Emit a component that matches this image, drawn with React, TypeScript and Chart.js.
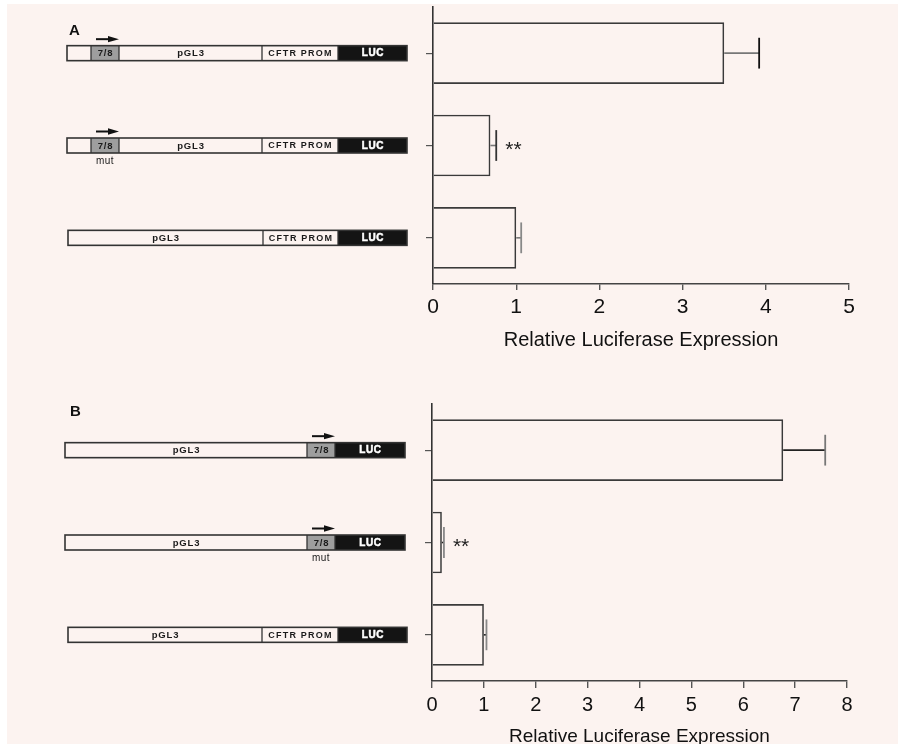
import React, { useEffect, useRef } from 'react';
import { Chart, registerables } from 'chart.js';

Chart.register(...registerables);

// ---------- data ----------
const categoriesA = ['7/8 + pGL3 + CFTR PROM', '7/8 mut + pGL3 + CFTR PROM', 'pGL3 + CFTR PROM'];
const valuesA = [3.5, 0.69, 1.0];
const errorsA = [0.42, 0.07, 0.06];
const significanceA = ['', '**', ''];
const xTicksA = [0, 1, 2, 3, 4, 5];

const categoriesB = ['pGL3 + 7/8', 'pGL3 + 7/8 mut', 'pGL3 + CFTR PROM'];
const valuesB = [6.77, 0.19, 1.0];
const errorsB = [0.81, 0.04, 0.05];
const significanceB = ['', '**', ''];
const xTicksB = [0, 1, 2, 3, 4, 5, 6, 7, 8];

const axisTitle = 'Relative Luciferase Expression';
const panelLetters = ['A', 'B'];
const partText: Record<string, string> = { blank: '', site: '7/8', pgl3: 'pGL3', prom: 'CFTR PROM', luc: 'LUC' };
const mutText = 'mut';

// ---------- diagram geometry (illustration of the constructs) ----------
type Construct = { edges: number[]; parts: string[]; arrow?: boolean; mut?: boolean };
const constructsA: Construct[] = [
  { edges: [67, 91, 119, 262, 338, 407], parts: ['blank', 'site', 'pgl3', 'prom', 'luc'], arrow: true },
  { edges: [67, 91, 119, 262, 338, 407], parts: ['blank', 'site', 'pgl3', 'prom', 'luc'], arrow: true, mut: true },
  { edges: [68, 263, 338, 407], parts: ['pgl3', 'prom', 'luc'] },
];
const constructsB: Construct[] = [
  { edges: [65, 307, 335, 405], parts: ['pgl3', 'site', 'luc'], arrow: true },
  { edges: [65, 307, 335, 405], parts: ['pgl3', 'site', 'luc'], arrow: true, mut: true },
  { edges: [68, 262, 338, 407], parts: ['pgl3', 'prom', 'luc'] },
];

const BG = '#fcf3f0';
const FONT = '"Liberation Sans", Arial, sans-serif';

function drawConstruct(ctx: CanvasRenderingContext2D, c: Construct, cy: number) {
  const h = 15;
  const top = cy - h / 2;
  ctx.save();
  c.parts.forEach((p, i) => {
    const x0 = c.edges[i];
    const x1 = c.edges[i + 1];
    ctx.fillStyle = p === 'site' ? '#9e9e9e' : p === 'luc' ? '#141414' : BG;
    ctx.fillRect(x0, top, x1 - x0, h);
  });
  ctx.strokeStyle = '#333';
  ctx.lineWidth = 1.6;
  const first = c.edges[0];
  const last = c.edges[c.edges.length - 1];
  ctx.strokeRect(first, top, last - first, h);
  ctx.lineWidth = 1.3;
  for (let i = 1; i < c.edges.length - 1; i++) {
    ctx.beginPath();
    ctx.moveTo(c.edges[i], top);
    ctx.lineTo(c.edges[i], top + h);
    ctx.stroke();
  }
  ctx.textAlign = 'center';
  ctx.textBaseline = 'middle';
  c.parts.forEach((p, i) => {
    const t = partText[p];
    if (!t) return;
    const cx = (c.edges[i] + c.edges[i + 1]) / 2;
    if (p === 'luc') {
      ctx.fillStyle = '#ffffff';
      ctx.strokeStyle = '#ffffff';
      ctx.lineWidth = 0.5;
      ctx.font = `bold 10px ${FONT}`;
      (ctx as any).letterSpacing = '0.6px';
      ctx.strokeText(t, cx + 0.5, cy + 0.5);
    } else if (p === 'prom') {
      ctx.fillStyle = '#1a1a1a';
      ctx.font = `bold 9px ${FONT}`;
      (ctx as any).letterSpacing = '1.2px';
    } else {
      ctx.fillStyle = '#1a1a1a';
      ctx.font = `bold 9.5px ${FONT}`;
      (ctx as any).letterSpacing = '0.8px';
    }
    ctx.fillText(t, cx + 0.5, cy + 0.5);
  });
  (ctx as any).letterSpacing = '0px';
  const si = c.parts.indexOf('site');
  if (si >= 0) {
    const sx0 = c.edges[si];
    const sx1 = c.edges[si + 1];
    if (c.arrow) {
      const ay = cy - 14;
      ctx.strokeStyle = '#111';
      ctx.lineWidth = 2;
      ctx.beginPath();
      ctx.moveTo(sx0 + 5, ay);
      ctx.lineTo(sx1 - 8, ay);
      ctx.stroke();
      ctx.fillStyle = '#111';
      ctx.beginPath();
      ctx.moveTo(sx1 - 11, ay - 3.2);
      ctx.lineTo(sx1, ay);
      ctx.lineTo(sx1 - 11, ay + 3.2);
      ctx.closePath();
      ctx.fill();
    }
    if (c.mut) {
      ctx.fillStyle = '#222';
      ctx.font = `10px ${FONT}`;
      (ctx as any).letterSpacing = '0.4px';
      ctx.fillText(mutText, (sx0 + sx1) / 2, cy + 16);
      (ctx as any).letterSpacing = '0px';
    }
  }
  ctx.restore();
}

type PanelCfg = {
  categories: string[];
  values: number[];
  errors: number[];
  significance: string[];
  ticks: number[];
  constructs: Construct[];
  letter: string;
  letterPos: [number, number];
  canvasHeight: number;
  areaTop: number;
  areaBottom: number;
  areaLeft: number;
  areaRight: number;
  tickFont: number;
  titleFont: number;
  titlePadBottom: number;
  tickPad: number;
  tickLen: number;
  capColors: string[];
  errLineColor: string;
};

function makeExtras(cfg: PanelCfg) {
  return {
    id: 'extras',
    afterDraw(chart: any) {
      const ctx: CanvasRenderingContext2D = chart.ctx;
      const xs = chart.scales.x;
      const ys = chart.scales.y;
      const meta = chart.getDatasetMeta(0);
      ctx.save();
      cfg.values.forEach((v, i) => {
        const el = meta.data[i];
        const y = el.y;
        const half = el.height / 4;
        const x0 = xs.getPixelForValue(v);
        const x1 = xs.getPixelForValue(v + cfg.errors[i]);
        ctx.strokeStyle = cfg.errLineColor;
        ctx.lineWidth = 1.6;
        ctx.beginPath();
        ctx.moveTo(x0, y);
        ctx.lineTo(x1, y);
        ctx.stroke();
        ctx.strokeStyle = cfg.capColors[i];
        ctx.lineWidth = 1.8;
        ctx.beginPath();
        ctx.moveTo(x1, y - half);
        ctx.lineTo(x1, y + half);
        ctx.stroke();
        const s = cfg.significance[i];
        if (s) {
          ctx.fillStyle = '#222';
          ctx.font = `21px ${FONT}`;
          ctx.textAlign = 'left';
          ctx.textBaseline = 'middle';
          ctx.fillText(s, x1 + 9, y + 5);
        }
      });
      ctx.restore();
      cfg.constructs.forEach((c, i) => drawConstruct(ctx, c, ys.getPixelForValue(i)));
      ctx.save();
      ctx.fillStyle = '#111';
      ctx.font = `bold 15px ${FONT}`;
      ctx.textAlign = 'left';
      ctx.textBaseline = 'alphabetic';
      ctx.fillText(cfg.letter, cfg.letterPos[0], cfg.letterPos[1]);
      ctx.restore();
    },
  };
}

function Panel({ cfg, top }: { cfg: PanelCfg; top: number }) {
  const ref = useRef<HTMLCanvasElement>(null);
  useEffect(() => {
    const canvas = ref.current!;
    const chart = new Chart(canvas, {
      type: 'bar',
      data: {
        labels: cfg.categories,
        datasets: [
          {
            data: cfg.values,
            backgroundColor: 'rgba(0,0,0,0)',
            borderColor: '#3a3a3a',
            borderWidth: 1.6,
            categoryPercentage: 1,
            barPercentage: 0.667,
          },
        ],
      },
      options: {
        indexAxis: 'y',
        animation: false,
        responsive: false,
        devicePixelRatio: 1,
        events: [],
        layout: {
          padding: { left: 0, right: 899 - cfg.areaRight, top: cfg.areaTop, bottom: 0 },
        },
        plugins: { legend: { display: false }, tooltip: { enabled: false }, title: { display: false } },
        scales: {
          x: {
            type: 'linear',
            min: 0,
            max: cfg.ticks[cfg.ticks.length - 1],
            afterBuildTicks: (s: any) => {
              s.ticks = cfg.ticks.map((v) => ({ value: v }));
            },
            afterFit: (s: any) => {
              s.height = cfg.canvasHeight - cfg.areaBottom;
            },
            ticks: {
              autoSkip: false,
              maxRotation: 0,
              color: '#111',
              padding: cfg.tickPad,
              font: { family: FONT, size: cfg.tickFont },
            },
            grid: {
              drawOnChartArea: false,
              drawTicks: true,
              tickLength: cfg.tickLen,
              color: '#555',
              lineWidth: 1.4,
            },
            border: { display: true, color: '#444', width: 1.5 },
            title: {
              display: true,
              text: axisTitle,
              color: '#111',
              font: { family: FONT, size: cfg.titleFont },
              padding: { top: 4, bottom: cfg.titlePadBottom },
            },
          },
          y: {
            type: 'category',
            offset: true,
            afterFit: (s: any) => {
              s.width = cfg.areaLeft;
            },
            ticks: { display: false },
            grid: {
              offset: false,
              drawOnChartArea: false,
              drawTicks: true,
              tickLength: 7,
              color: '#555',
              lineWidth: 1.2,
            },
            border: { display: true, color: '#333', width: 1.6 },
          },
        },
      },
      plugins: [makeExtras(cfg)],
    } as any);
    return () => chart.destroy();
  }, []);
  return (
    <canvas
      ref={ref}
      width={899}
      height={cfg.canvasHeight}
      style={{ position: 'absolute', left: 0, top, width: 899, height: cfg.canvasHeight, display: 'block' }}
    />
  );
}

const cfgA: PanelCfg = {
  categories: categoriesA,
  values: valuesA,
  errors: errorsA,
  significance: significanceA,
  ticks: xTicksA,
  constructs: constructsA,
  letter: panelLetters[0],
  letterPos: [69, 35],
  canvasHeight: 372,
  areaTop: 7,
  areaBottom: 284,
  areaLeft: 433,
  areaRight: 849,
  tickFont: 21,
  titleFont: 20,
  titlePadBottom: 20,
  tickPad: 5,
  tickLen: 6,
  capColors: ['#111', '#333', '#888'],
  errLineColor: '#777',
};

const cfgB: PanelCfg = {
  categories: categoriesB,
  values: valuesB,
  errors: errorsB,
  significance: significanceB,
  ticks: xTicksB,
  constructs: constructsB,
  letter: panelLetters[1],
  letterPos: [70, 44],
  canvasHeight: 380,
  areaTop: 32,
  areaBottom: 309,
  areaLeft: 432,
  areaRight: 847,
  tickFont: 20,
  titleFont: 19,
  titlePadBottom: 4,
  tickPad: 5,
  tickLen: 7,
  capColors: ['#777', '#888', '#888'],
  errLineColor: '#222',
};

export default function App() {
  return (
    <div
      style={{
        position: 'absolute',
        left: 0,
        top: 0,
        width: 899,
        height: 744,
        background: '#ffffff',
        overflow: 'hidden',
      }}
    >
      <div style={{ position: 'absolute', left: 7, top: 4, width: 891, height: 740, background: BG }} />
      <Panel cfg={cfgA} top={0} />
      <Panel cfg={cfgB} top={372} />
    </div>
  );
}
